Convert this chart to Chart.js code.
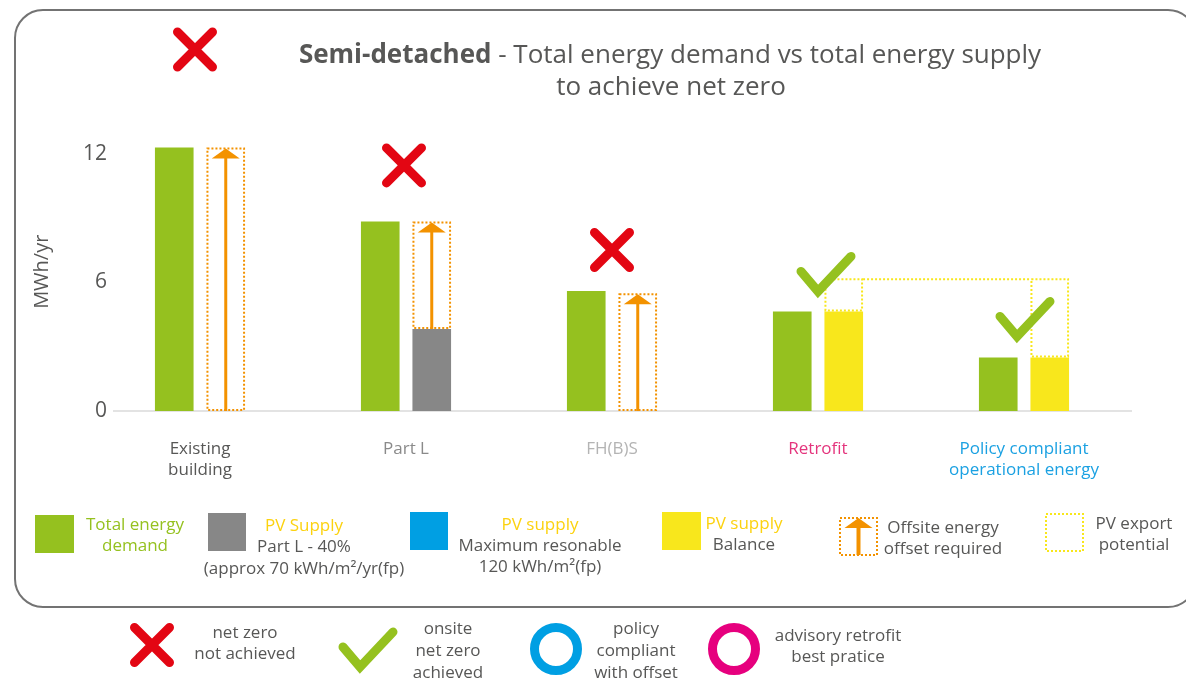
<!DOCTYPE html>
<html>
<head>
<meta charset="utf-8">
<script src="https://cdn.jsdelivr.net/npm/chart.js@4.4.1/dist/chart.umd.min.js"></script>
<style>
  html, body { margin: 0; padding: 0; background: #ffffff; }
  #wrap { width: 1186px; height: 685px; }
</style>
</head>
<body>
<div id="wrap"><canvas id="chart" width="1186" height="685"></canvas></div>
<script>
// ---- data (MWh/yr) ----
const categories = [['Existing', 'building'], 'Part L', 'FH(B)S', 'Retrofit', ['Policy compliant', 'operational energy']];
const demand     = [12.3, 8.85, 5.6, 4.65, 2.5];
const pvPartL    = [0, 3.83, 0, 0, 0];
const pvBalance  = [0, 0, 0, 4.65, 2.5];
const offsetTop  = [12.3, 8.85, 5.5, null, null];   // supply needed, met by offsite offset
const exportTop  = [null, null, null, 6.2, 6.2];    // PV export potential ceiling
const outcome    = ['cross', 'cross', 'cross', 'check', 'check'];
const yTicks     = [0, 6, 12];

// ---- styling ----
const C = {
  green: '#95c11f', grey: '#878787', blue: '#009fe3', yellow: '#f8e71c', gold: '#fcd20f',
  orange: '#f39200', red: '#e30613', pink: '#e6007e', text: '#575756', frame: '#737373', base: '#e3e3e3'
};
const categoryColors = ['#575756', '#8a8a8a', '#b4b4b4', '#e4357d', '#1ba1e2'];
const FONT = '"Open Sans", sans-serif';
const Y_TICK_FONT = 21;
// marker placement: horizontal nudge and lift above the demand bar (px)
const markerNudge = [-5, -2, 0, 8, 1];
const markerLift  = [98, 56, 41, 37, 38];

const supplyBelow = (i) => pvPartL[i] + pvBalance[i];
const offsetGap = offsetTop.map((v, i) => v == null ? 0 : v - supplyBelow(i));
const exportGap = exportTop.map((v, i) => v == null ? 0 : v - supplyBelow(i));

// y tick labels sit right-aligned 10px inside the plot's left edge
const measureCtx = document.createElement('canvas').getContext('2d');
measureCtx.font = Y_TICK_FONT + 'px ' + FONT;
const widestTick = Math.max(...yTicks.map(v => measureCtx.measureText(String(v)).width));

// ---- drawing helpers ----
function dottedRect(ctx, l, t, r, b, color) {
  ctx.save();
  ctx.strokeStyle = color; ctx.lineWidth = 2; ctx.setLineDash([2, 2]);
  ctx.strokeRect(l + 1, t + 1, r - l - 2, b - t - 2);
  ctx.restore();
}
function dottedLine(ctx, x1, y1, x2, y2, color) {
  ctx.save();
  ctx.strokeStyle = color; ctx.lineWidth = 2; ctx.setLineDash([2, 2]);
  ctx.beginPath(); ctx.moveTo(x1, y1); ctx.lineTo(x2, y2); ctx.stroke();
  ctx.restore();
}
function upArrow(ctx, x, top, bottom, color, headW, headH, lw) {
  ctx.save();
  ctx.strokeStyle = color; ctx.fillStyle = color; ctx.lineWidth = lw;
  ctx.beginPath(); ctx.moveTo(x, bottom); ctx.lineTo(x, top + headH - 1); ctx.stroke();
  ctx.beginPath();
  ctx.moveTo(x - headW / 2, top + headH); ctx.lineTo(x + headW / 2, top + headH); ctx.lineTo(x, top);
  ctx.closePath(); ctx.fill();
  ctx.restore();
}
function drawCross(ctx, cx, cy, s) {
  ctx.save();
  ctx.strokeStyle = C.red; ctx.lineWidth = 9; ctx.lineCap = 'round';
  ctx.beginPath();
  ctx.moveTo(cx - s, cy - s); ctx.lineTo(cx + s, cy + s);
  ctx.moveTo(cx + s, cy - s); ctx.lineTo(cx - s, cy + s);
  ctx.stroke();
  ctx.restore();
}
function drawCheck(ctx, cx, cy) {
  ctx.save();
  ctx.strokeStyle = C.green; ctx.lineWidth = 9; ctx.lineCap = 'round'; ctx.lineJoin = 'miter';
  ctx.beginPath();
  ctx.moveTo(cx - 25, cy - 3); ctx.lineTo(cx - 8, cy + 17); ctx.lineTo(cx + 25, cy - 18);
  ctx.stroke();
  ctx.restore();
}
function drawRing(ctx, cx, cy, color) {
  ctx.save();
  ctx.strokeStyle = color; ctx.lineWidth = 9;
  ctx.beginPath(); ctx.arc(cx, cy, 21.5, 0, Math.PI * 2); ctx.stroke();
  ctx.restore();
}
function textLines(ctx, x, lines, size) {
  ctx.save();
  ctx.textAlign = 'center'; ctx.textBaseline = 'middle';
  ctx.font = size + 'px ' + FONT;
  lines.forEach(([str, y, color]) => { ctx.fillStyle = color; ctx.fillText(str, x, y); });
  ctx.restore();
}
function roundRect(ctx, x, y, w, h, r) {
  ctx.beginPath();
  ctx.moveTo(x + r, y); ctx.lineTo(x + w - r, y); ctx.arcTo(x + w, y, x + w, y + r, r);
  ctx.lineTo(x + w, y + h - r); ctx.arcTo(x + w, y + h, x + w - r, y + h, r);
  ctx.lineTo(x + r, y + h); ctx.arcTo(x, y + h, x, y + h - r, r);
  ctx.lineTo(x, y + r); ctx.arcTo(x, y, x + r, y, r);
  ctx.closePath();
}

// ---- plugin: frame, title, offset / export boxes, outcome markers and keys ----
const decorations = {
  id: 'decorations',
  beforeDraw(chart) {
    const { ctx } = chart;
    ctx.save();
    ctx.fillStyle = '#ffffff'; ctx.fillRect(0, 0, chart.width, chart.height);
    ctx.strokeStyle = C.frame; ctx.lineWidth = 2;
    roundRect(ctx, 15, 10, 1181, 597, 28); ctx.stroke();
    ctx.restore();
  },
  beforeDatasetsDraw(chart) {
    const { ctx, chartArea, scales } = chart;
    const y0 = scales.y.getPixelForValue(0);
    ctx.save();
    ctx.strokeStyle = C.base; ctx.lineWidth = 2;
    ctx.beginPath(); ctx.moveTo(chartArea.left + 16, y0); ctx.lineTo(chartArea.right + 5, y0); ctx.stroke();
    ctx.restore();
  },
  afterDatasetsDraw(chart) {
    const { ctx } = chart;
    const offMeta = chart.getDatasetMeta(3);
    const expMeta = chart.getDatasetMeta(4);
    const demMeta = chart.getDatasetMeta(0);

    // offsite energy offset boxes with arrows
    offMeta.data.forEach((bar, i) => {
      if (!offsetGap[i]) return;
      const l = bar.x - bar.width / 2, r = bar.x + bar.width / 2;
      dottedRect(ctx, l, bar.y, r, bar.base, C.orange);
      upArrow(ctx, bar.x, bar.y + 1, bar.base, C.orange, 28, 10, 3);
    });

    // PV export potential boxes, joined along their top edge
    let prev = null;
    expMeta.data.forEach((bar, i) => {
      if (!exportGap[i]) return;
      const l = bar.x - bar.width / 2, r = bar.x + bar.width / 2;
      dottedRect(ctx, l, bar.y, r, bar.base, C.yellow);
      if (prev) dottedLine(ctx, prev.r, prev.y + 1, l + 1, bar.y + 1, C.yellow);
      prev = { r, y: bar.y };
    });

    // outcome markers
    demMeta.data.forEach((bar, i) => {
      const cx = chart.scales.x.getPixelForValue(i) + markerNudge[i];
      const cy = bar.y - markerLift[i];
      if (outcome[i] === 'cross') drawCross(ctx, cx, cy, 17.5);
      else drawCheck(ctx, cx, cy);
    });
  },
  afterDraw(chart) {
    const { ctx } = chart;

    // title
    ctx.save();
    ctx.textBaseline = 'alphabetic'; ctx.fillStyle = C.text;
    const bold = 'Semi-detached', rest = ' - Total energy demand vs total energy supply';
    ctx.font = 'bold 26px ' + FONT; const wb = ctx.measureText(bold).width;
    ctx.font = '26px ' + FONT; const wr = ctx.measureText(rest).width;
    const x0 = 670 - (wb + wr) / 2;
    ctx.font = 'bold 26px ' + FONT; ctx.textAlign = 'left'; ctx.fillText(bold, x0, 63);
    ctx.font = '26px ' + FONT; ctx.fillText(rest, x0 + wb, 63);
    ctx.textAlign = 'center'; ctx.fillText('to achieve net zero', 671, 95);
    ctx.restore();

    // series key
    ctx.save();
    ctx.fillStyle = C.green;  ctx.fillRect(35, 515, 39, 38);
    ctx.fillStyle = C.grey;   ctx.fillRect(208, 513, 38, 38);
    ctx.fillStyle = C.blue;   ctx.fillRect(410, 512, 38, 38);
    ctx.fillStyle = C.yellow; ctx.fillRect(662, 512, 39, 38);
    ctx.restore();
    dottedRect(ctx, 839, 517, 878, 556, C.orange);
    upArrow(ctx, 858.5, 518, 555, C.orange, 28, 10, 4);
    dottedRect(ctx, 1045, 513, 1084, 552, C.yellow);

    textLines(ctx, 135, [['Total energy', 525, C.green], ['demand', 546, C.green]], 17);
    textLines(ctx, 304, [['PV Supply', 526, C.gold], ['Part L - 40%', 547, C.text], ['(approx 70 kWh/m\u00b2/yr(fp)', 569, C.text]], 17);
    textLines(ctx, 540, [['PV supply', 525, C.gold], ['Maximum resonable', 546, C.text], ['120 kWh/m\u00b2(fp)', 567, C.text]], 17);
    textLines(ctx, 744, [['PV supply', 524, C.gold], ['Balance', 545, C.text]], 17);
    textLines(ctx, 943, [['Offsite energy', 528, C.text], ['offset required', 549, C.text]], 17);
    textLines(ctx, 1134, [['PV export', 524, C.text], ['potential', 545, C.text]], 17);

    // outcome key
    drawCross(ctx, 152, 645, 17.5);
    textLines(ctx, 245, [['net zero', 633, C.text], ['not achieved', 654, C.text]], 17);
    drawCheck(ctx, 368, 650);
    textLines(ctx, 448, [['onsite', 629, C.text], ['net zero', 651, C.text], ['achieved', 673, C.text]], 17);
    drawRing(ctx, 556, 649, C.blue);
    textLines(ctx, 636, [['policy', 629, C.text], ['compliant', 651, C.text], ['with offset', 673, C.text]], 17);
    drawRing(ctx, 734, 649, C.pink);
    textLines(ctx, 838, [['advisory retrofit', 636, C.text], ['best pratice', 657, C.text]], 17);
  }
};

new Chart(document.getElementById('chart'), {
  type: 'bar',
  data: {
    labels: categories,
    datasets: [
      { label: 'Total energy demand', data: demand, backgroundColor: C.green, stack: 'demand' },
      { label: 'PV Supply Part L - 40%', data: pvPartL, backgroundColor: C.grey, stack: 'supply' },
      { label: 'PV supply Balance', data: pvBalance, backgroundColor: C.yellow, stack: 'supply' },
      { label: 'Offsite energy offset required', data: offsetGap, backgroundColor: 'rgba(0,0,0,0)', stack: 'supply' },
      { label: 'PV export potential', data: exportGap, backgroundColor: 'rgba(0,0,0,0)', stack: 'supply' }
    ]
  },
  options: {
    responsive: false,
    animation: false,
    devicePixelRatio: 1,
    layout: { padding: { top: 132.5, right: 59, bottom: 0, left: 0 } },
    datasets: { bar: { categoryPercentage: 0.5, barPercentage: 0.75, borderWidth: 0 } },
    plugins: { legend: { display: false }, tooltip: { enabled: false }, title: { display: false } },
    scales: {
      x: {
        stacked: true,
        grid: { display: false, drawTicks: false },
        border: { display: false },
        afterFit: (s) => { s.height = 274; },
        ticks: {
          autoSkip: false, maxRotation: 0, minRotation: 0, padding: 27.4,
          color: categoryColors,
          font: { family: FONT, size: 17, lineHeight: 1.25 }
        }
      },
      y: {
        stacked: true,
        min: 0, max: 13,
        grid: { display: false, drawTicks: false },
        border: { display: false },
        afterFit: (s) => { s.width = 97; },
        afterBuildTicks: (s) => { s.ticks = yTicks.map(v => ({ value: v })); },
        ticks: {
          mirror: true, crossAlign: 'far', padding: 10 - widestTick,
          color: C.text, font: { family: FONT, size: Y_TICK_FONT }
        },
        title: {
          display: true, text: 'MWh/yr', color: C.text,
          font: { family: FONT, size: 20, lineHeight: 1.2 },
          padding: { top: 30, bottom: 0 }
        }
      }
    }
  },
  plugins: [decorations]
});
</script>
</body>
</html>
